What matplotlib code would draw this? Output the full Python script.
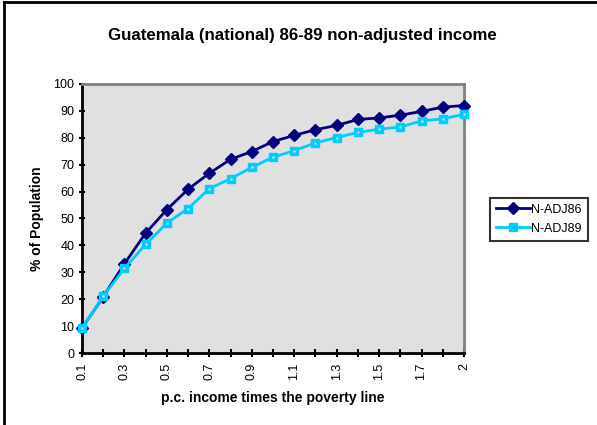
import matplotlib.pyplot as plt
import matplotlib.lines as mlines

categories = ['0.1', '0.2', '0.3', '0.4', '0.5', '0.6', '0.7', '0.8', '0.9', '1',
              '1.1', '1.2', '1.3', '1.4', '1.5', '1.6', '1.7', '1.8', '2']
n_adj86 = [9.3, 20.9, 33.2, 44.6, 53.3, 60.9, 66.8, 72.0, 74.9, 78.6,
           80.9, 83.0, 84.6, 86.8, 87.4, 88.4, 89.8, 91.4, 92.0]
n_adj89 = [9.3, 21.1, 31.5, 40.4, 48.3, 53.7, 61.1, 64.8, 69.0, 72.8,
           75.2, 78.1, 80.1, 82.0, 83.2, 84.0, 86.3, 87.0, 88.8]

plt.rcParams['font.family'] = ['Liberation Sans', 'DejaVu Sans']

fig = plt.figure(figsize=(5.97, 4.25), dpi=100)
ax = fig.add_axes([0.1374, 0.1694, 0.6398, 0.633])
ax.set_facecolor('#E0E0E0')

x = list(range(len(categories)))
ax.plot(x, n_adj86, color='#000080', linewidth=2, marker='D', markersize=6,
        markerfacecolor='#000080', markeredgecolor='#000080', label='N-ADJ86',
        clip_on=False, zorder=3)
ax.plot(x, n_adj89, color='#00CCFF', linewidth=2, marker='s', markersize=6,
        markerfacecolor='#00CCFF', markeredgecolor='#00CCFF', label='N-ADJ89',
        clip_on=False, zorder=3)
# small light centre of the square markers
ax.plot(x, n_adj89, linestyle='none', marker='s', markersize=2,
        markerfacecolor='#E0F8FF', markeredgecolor='none', clip_on=False, zorder=4)

ax.set_xlim(0, len(categories) - 1)
ax.set_ylim(0, 100)
ax.set_yticks(range(0, 101, 10))
ax.set_xticks(x)
ax.set_xticklabels([c if i % 2 == 0 else '' for i, c in enumerate(categories)],
                   rotation=90, fontsize=9)
ax.tick_params(axis='y', labelsize=9, length=4, width=1.5, direction='inout')
ax.tick_params(axis='x', length=6, width=1.5, direction='inout', pad=4)

for side in ['top', 'right']:
    ax.spines[side].set_color('#808080')
    ax.spines[side].set_linewidth(2)
for side in ['left', 'bottom']:
    ax.spines[side].set_color('black')
    ax.spines[side].set_linewidth(2)

ax.set_xlabel('p.c. income times the poverty line', fontsize=10, fontweight='bold',
              labelpad=8)
ax.set_ylabel('% of Population', fontsize=10, fontweight='bold', labelpad=7)
fig.text(0.506, 0.917, 'Guatemala (national) 86-89 non-adjusted income',
         ha='center', va='center', fontsize=12.2, fontweight='bold')

h1 = mlines.Line2D([], [], color='#000080', linewidth=2, marker='D', markersize=6)
h2 = mlines.Line2D([], [], color='#00CCFF', linewidth=2, marker='s', markersize=6)
leg = fig.legend([h1, h2], ['N-ADJ86', 'N-ADJ89'], loc='center left',
                 bbox_to_anchor=(0.821, 0.484), fontsize=9, frameon=True,
                 fancybox=False, edgecolor='black', handlelength=2.7,
                 handletextpad=0.1, borderpad=0.5, labelspacing=0.55,
                 borderaxespad=0)
leg.get_frame().set_linewidth(1.5)

# outer chart border (left and top visible)
fig.add_artist(mlines.Line2D([0.006, 0.006], [0, 0.995], color='black',
                             linewidth=2, transform=fig.transFigure))
fig.add_artist(mlines.Line2D([0.006, 1], [0.995, 0.995], color='black',
                             linewidth=2, transform=fig.transFigure))

fig.savefig('out.png', dpi=100)
